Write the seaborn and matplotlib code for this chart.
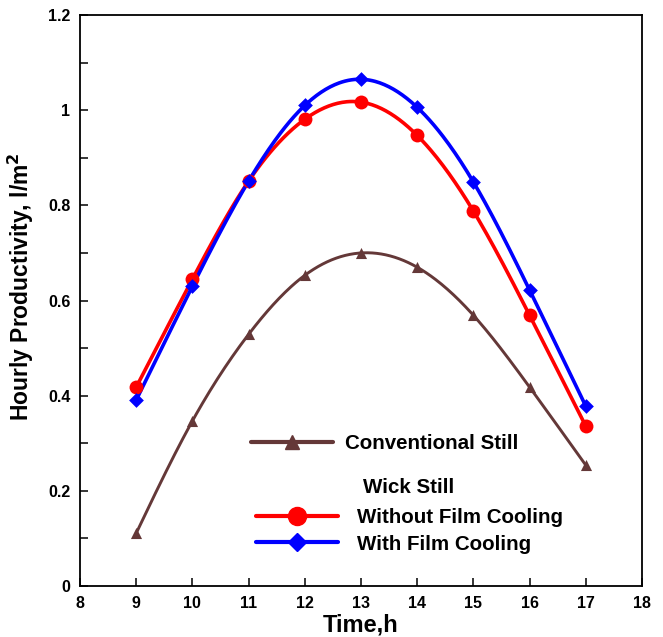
import numpy as np
import matplotlib
matplotlib.use("Agg")
import matplotlib.pyplot as plt
import seaborn as sns
from matplotlib.lines import Line2D
from matplotlib.ticker import MultipleLocator

# ---- data ----
time_h = [9, 10, 11, 12, 13, 14, 15, 16, 17]
conventional = [0.111, 0.347, 0.529, 0.653, 0.700, 0.670, 0.569, 0.418, 0.254]
wick_without = [0.418, 0.645, 0.851, 0.981, 1.017, 0.947, 0.788, 0.569, 0.336]
wick_with = [0.391, 0.630, 0.851, 1.010, 1.065, 1.006, 0.849, 0.622, 0.378]
x_ticks = [8, 9, 10, 11, 12, 13, 14, 15, 16, 17, 18]
y_ticks = [0, 0.2, 0.4, 0.6, 0.8, 1.0, 1.2]
y_tick_labels = ["0", "0.2", "0.4", "0.6", "0.8", "1", "1.2"]


def natural_spline(x, y, n=300):
    x = np.asarray(x, float)
    y = np.asarray(y, float)
    k = len(x)
    h = np.diff(x)
    A = np.zeros((k, k))
    b = np.zeros(k)
    A[0, 0] = A[-1, -1] = 1
    for i in range(1, k - 1):
        A[i, i - 1] = h[i - 1]
        A[i, i] = 2 * (h[i - 1] + h[i])
        A[i, i + 1] = h[i]
        b[i] = 3 * ((y[i + 1] - y[i]) / h[i] - (y[i] - y[i - 1]) / h[i - 1])
    c = np.linalg.solve(A, b)
    xs = np.linspace(x[0], x[-1], n)
    idx = np.clip(np.searchsorted(x, xs) - 1, 0, k - 2)
    dx = xs - x[idx]
    bb = (y[idx + 1] - y[idx]) / h[idx] - h[idx] * (2 * c[idx] + c[idx + 1]) / 3
    dd = (c[idx + 1] - c[idx]) / (3 * h[idx])
    ys = y[idx] + bb * dx + c[idx] * dx ** 2 + dd * dx ** 3
    return xs, ys


sns.set_style("white")
plt.rcParams["font.family"] = ["Liberation Sans", "DejaVu Sans"]
plt.rcParams["font.weight"] = "bold"
plt.rcParams["text.color"] = "black"
plt.rcParams["axes.labelcolor"] = "black"
plt.rcParams["xtick.color"] = "black"
plt.rcParams["ytick.color"] = "black"

fig = plt.figure(figsize=(6.63, 6.37), dpi=100)
ax = fig.add_axes([0.1207, 0.080, 0.8476, 0.8964])

brown = "#643838"
red = "#FF0000"
blue = "#0000FF"

series = [
    (conventional, brown, "^", 2.1, 8),
    (wick_without, red, "o", 2.6, 10),
    (wick_with, blue, "D", 2.6, 7.5),
]
for vals, col, mk, lw, ms in series:
    xs, ys = natural_spline(time_h, vals)
    sns.lineplot(x=xs, y=ys, ax=ax, color=col, lw=lw, sort=False, legend=False)
    sns.scatterplot(x=time_h, y=vals, ax=ax, color=col, marker=mk, s=ms ** 2,
                    edgecolor=col, linewidth=0, zorder=3, legend=False)

ax.set_xlim(8, 18)
ax.set_ylim(0, 1.2)
ax.set_xticks(x_ticks)
ax.set_xticklabels([str(t) for t in x_ticks])
ax.set_yticks(y_ticks)
ax.set_yticklabels(y_tick_labels)
ax.yaxis.set_minor_locator(MultipleLocator(0.1))
ax.tick_params(axis="both", which="both", direction="in", length=6, width=1.1,
               labelsize=11.5, color="black", pad=7,
               bottom=True, left=True, top=False, right=False)
for lab in ax.get_xticklabels() + ax.get_yticklabels():
    lab.set_fontweight("bold")
for sp in ax.spines.values():
    sp.set_visible(True)
    sp.set_color("black")
    sp.set_linewidth(1.3)

ax.set_xlabel("Time,h", fontsize=17, fontweight="bold", labelpad=2)
ax.set_ylabel("Hourly Productivity, l/m$^\\mathbf{2}$", fontsize=16.5,
              fontweight="bold")
ax.yaxis.set_label_coords(-0.078, 0.524)

# legends
fs = 14.8
h1 = [Line2D([], [], color=brown, lw=3.0, marker="^", ms=10)]
leg1 = ax.legend(h1, ["Conventional Still"], loc="center left",
                 bbox_to_anchor=(0.304, 0.250), frameon=False,
                 prop={"weight": "bold", "size": fs}, handlelength=4.0,
                 handletextpad=0.6, borderaxespad=0, borderpad=0)
ax.add_artist(leg1)
h2 = [Line2D([], [], color=red, lw=3.0, marker="o", ms=13),
      Line2D([], [], color=blue, lw=3.0, marker="D", ms=9)]
leg2 = ax.legend(h2, ["Without Film Cooling", "With Film Cooling"],
                 loc="center left", bbox_to_anchor=(0.313, 0.097),
                 frameon=False, prop={"weight": "bold", "size": fs},
                 handlelength=4.0, handletextpad=0.9, borderaxespad=0,
                 borderpad=0, labelspacing=0.38)
ax.text(0.504, 0.173, "Wick Still", transform=ax.transAxes, ha="left",
        va="center", fontsize=fs, fontweight="bold")

fig.savefig("out.png", dpi=100)
